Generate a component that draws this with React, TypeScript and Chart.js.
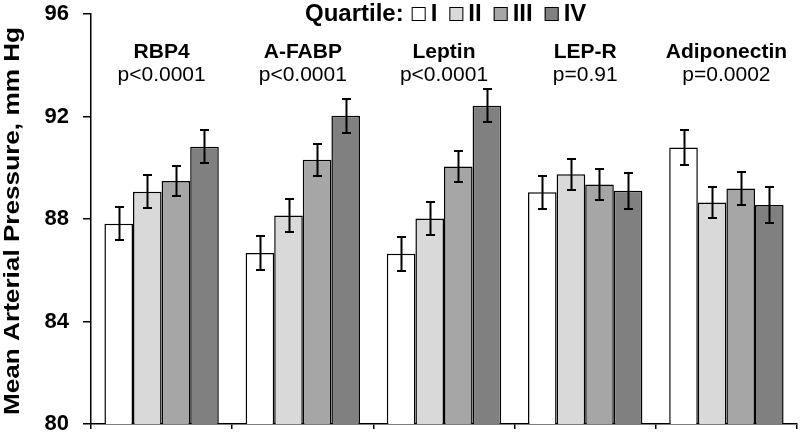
import React, { useEffect, useRef } from "react";
import { Chart, registerables } from "chart.js";

Chart.register(...registerables);

const categories = ["RBP4", "A-FABP", "Leptin", "LEP-R", "Adiponectin"];
const pValues = ["p<0.0001", "p<0.0001", "p<0.0001", "p=0.91", "p=0.0002"];
const quartileLabels = ["I", "II", "III", "IV"];

const q1 = [87.81, 86.67, 86.64, 89.04, 90.79];
const q2 = [89.06, 88.14, 88.02, 89.75, 88.64];
const q3 = [89.48, 90.31, 90.05, 89.35, 89.19];
const q4 = [90.82, 92.03, 92.42, 89.1, 88.55];

const e1 = [0.64, 0.67, 0.66, 0.65, 0.68];
const e2 = [0.65, 0.65, 0.64, 0.61, 0.6];
const e3 = [0.6, 0.63, 0.62, 0.62, 0.63];
const e4 = [0.65, 0.66, 0.65, 0.7, 0.71];

const yTicks = [80, 84, 88, 92, 96];
const yTitle = "Mean Arterial Pressure, mm Hg";
const legendTitle = "Quartile:";

const colors = ["#ffffff", "#d9d9d9", "#a6a6a6", "#808080"];
const FONT = "'Liberation Sans', Arial, sans-serif";

const seriesValues = [q1, q2, q3, q4];
const seriesErrors = [e1, e2, e3, e4];

const annotPlugin = {
  id: "annot",
  afterDatasetsDraw(chart: any) {
    const ctx = chart.ctx;
    const ys = chart.scales.y;
    ctx.save();
    ctx.strokeStyle = "#000";
    ctx.lineWidth = 2;
    chart.data.datasets.forEach((ds: any, di: number) => {
      const meta = chart.getDatasetMeta(di);
      meta.data.forEach((bar: any, i: number) => {
        const v = ds.data[i];
        const e = seriesErrors[di][i];
        const yt = Math.round(ys.getPixelForValue(v + e));
        const yb = Math.round(ys.getPixelForValue(v - e));
        const bx = Math.round(bar.x) + 0.5;
        ctx.beginPath();
        ctx.moveTo(bx, yt);
        ctx.lineTo(bx, yb);
        ctx.moveTo(bx - 4.5, yt);
        ctx.lineTo(bx + 4.5, yt);
        ctx.moveTo(bx - 4.5, yb);
        ctx.lineTo(bx + 4.5, yb);
        ctx.stroke();
      });
    });
    ctx.restore();
  },
  afterDraw(chart: any) {
    const ctx = chart.ctx;
    const xs = chart.scales.x;
    ctx.save();
    ctx.fillStyle = "#000";
    ctx.textAlign = "center";
    ctx.textBaseline = "alphabetic";
    categories.forEach((c, i) => {
      const cx = xs.getPixelForValue(i);
      ctx.font = `bold 21px ${FONT}`;
      ctx.fillText(c, cx, 58);
      ctx.font = `21px ${FONT}`;
      ctx.fillText(pValues[i], cx, 81);
    });

    // legend
    ctx.textAlign = "left";
    ctx.font = `bold 24px ${FONT}`;
    let lx = 305;
    const ly = 21;
    ctx.fillText(legendTitle, lx, ly);
    lx += ctx.measureText(legendTitle).width + 8;
    quartileLabels.forEach((q, i) => {
      ctx.fillStyle = colors[i];
      ctx.fillRect(lx, 7, 14, 14);
      ctx.strokeStyle = "#000";
      ctx.lineWidth = 1;
      ctx.strokeRect(lx + 0.5, 7.5, 13, 13);
      lx += 19;
      ctx.fillStyle = "#000";
      ctx.fillText(q, lx, ly);
      lx += ctx.measureText(q).width + 12;
    });

    // y axis title
    ctx.save();
    ctx.translate(19, 221);
    ctx.rotate(-Math.PI / 2);
    ctx.font = `bold 22px ${FONT}`;
    const w = ctx.measureText(yTitle).width;
    ctx.scale(388 / w, 1);
    ctx.textAlign = "center";
    ctx.fillText(yTitle, 0, 0);
    ctx.restore();

    ctx.restore();
  },
};

export default function App() {
  const ref = useRef<HTMLCanvasElement>(null);
  useEffect(() => {
    document.body.style.margin = "0";
    const chart = new Chart(ref.current!, {
      type: "bar",
      data: {
        labels: categories,
        datasets: seriesValues.map((vals, i) => ({
          label: quartileLabels[i],
          data: vals,
          backgroundColor: colors[i],
          borderColor: "#000",
          borderWidth: 1.5,
          borderSkipped: false,
          categoryPercentage: 0.81,
          barPercentage: 1.0,
        })),
      },
      options: {
        responsive: false,
        animation: false,
        events: [],
        layout: { padding: { top: 14, right: 3, left: 0, bottom: 0 } },
        plugins: {
          legend: { display: false },
          tooltip: { enabled: false },
          title: { display: false },
        },
        scales: {
          x: {
            grid: {
              offset: true,
              drawOnChartArea: false,
              tickLength: 5,
              color: "#000",
              lineWidth: 1.5,
            },
            border: { color: "#000", width: 1.5 },
            ticks: { callback: () => "", padding: 0, font: { size: 1 } },
            afterFit: (s: any) => {
              s.height = 9;
              s.paddingLeft = 0;
              s.paddingRight = 0;
            },
          },
          y: {
            min: 80,
            max: 96,
            afterBuildTicks: (s: any) => {
              s.ticks = yTicks.map((v) => ({ value: v }));
            },
            grid: {
              drawOnChartArea: false,
              tickLength: 8,
              color: "#000",
              lineWidth: 1.5,
            },
            border: { color: "#000", width: 1.5 },
            ticks: {
              color: "#000",
              padding: 14,
              font: { family: FONT, size: 22, weight: "bold" },
            },
            afterFit: (s: any) => {
              s.width = 91;
              s.paddingTop = 0;
              s.paddingBottom = 0;
            },
          },
        },
      },
      plugins: [annotPlugin],
    });
    return () => chart.destroy();
  }, []);
  return (
    <div style={{ position: "absolute", left: 0, top: 0, width: 800, height: 433 }}>
      <canvas ref={ref} width={800} height={433} style={{ display: "block" }} />
    </div>
  );
}
